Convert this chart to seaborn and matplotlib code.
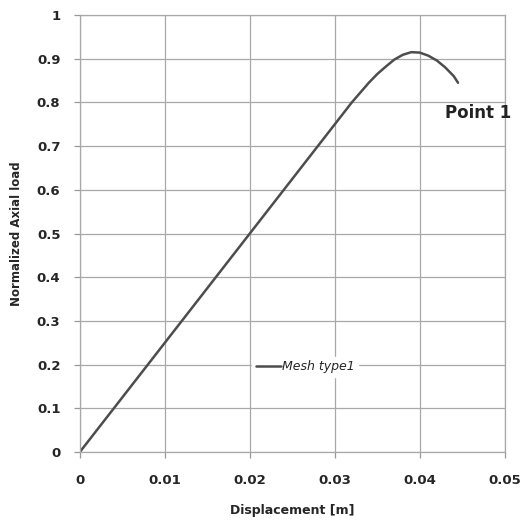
import matplotlib
matplotlib.use("Agg")
import matplotlib.pyplot as plt
import pandas as pd
import seaborn as sns

# curva carga-deslocamento
displacement = [0.0, 0.005, 0.01, 0.015, 0.02, 0.025, 0.03, 0.032, 0.034, 0.035,
                0.036, 0.037, 0.038, 0.039, 0.040, 0.041, 0.042, 0.043, 0.044, 0.0445]
axial_load = [0.0, 0.125, 0.25, 0.375, 0.5, 0.625, 0.75, 0.80, 0.845, 0.865,
              0.882, 0.898, 0.909, 0.915, 0.914, 0.907, 0.896, 0.880, 0.860, 0.845]

x_ticks = [0, 0.01, 0.02, 0.03, 0.04, 0.05]
x_tick_labels = ["0", "0.01", "0.02", "0.03", "0.04", "0.05"]
y_ticks = [0, 0.1, 0.2, 0.3, 0.4, 0.5, 0.6, 0.7, 0.8, 0.9, 1]
y_tick_labels = ["0", "0.1", "0.2", "0.3", "0.4", "0.5", "0.6", "0.7", "0.8", "0.9", "1"]

df = pd.DataFrame({"Displacement": displacement, "Load": axial_load})

sns.set_style("white")
plt.rcParams["font.family"] = ["DejaVu Sans"]

fig = plt.figure(figsize=(5.22, 5.29), dpi=100)
ax = fig.add_axes([0.153, 0.1456, 0.814, 0.826])

sns.lineplot(data=df, x="Displacement", y="Load", ax=ax, color="#4d4d4d",
             linewidth=1.8, label="Mesh type1")

ax.set_xlim(0, 0.05)
ax.set_ylim(0, 1)
ax.set_xticks(x_ticks)
ax.set_xticklabels(x_tick_labels, fontsize=9.5, fontweight="bold")
ax.set_yticks(y_ticks)
ax.set_yticklabels(y_tick_labels, fontsize=9.5, fontweight="bold")
ax.tick_params(axis="x", bottom=True, length=4, width=0.9, color="#999999", pad=12)
ax.tick_params(axis="y", left=True, length=4, width=0.9, color="#999999", pad=10)
ax.grid(True, color="#a8a8a8", linewidth=0.9)
for s in ax.spines.values():
    s.set_color("#a8a8a8")
    s.set_linewidth(0.9)

ax.set_xlabel("Displacement [m]", fontsize=9, fontweight="bold", labelpad=12)
ax.set_ylabel("Normalized Axial load", fontsize=8.5, fontweight="bold", labelpad=10)

leg = ax.legend(loc="center", bbox_to_anchor=(0.53, 0.195), frameon=True,
                prop={"style": "italic", "size": 9}, handlelength=2.0,
                handletextpad=0.1, borderpad=0.3)
leg.get_frame().set_edgecolor("white")
leg.get_frame().set_facecolor("white")
leg.get_frame().set_alpha(1)

ax.text(0.86, 0.776, "Point 1", transform=ax.transAxes, fontsize=12,
        fontweight="bold", color="#222222", ha="left", va="center",
        clip_on=False)

fig.savefig("out.png", dpi=100)
